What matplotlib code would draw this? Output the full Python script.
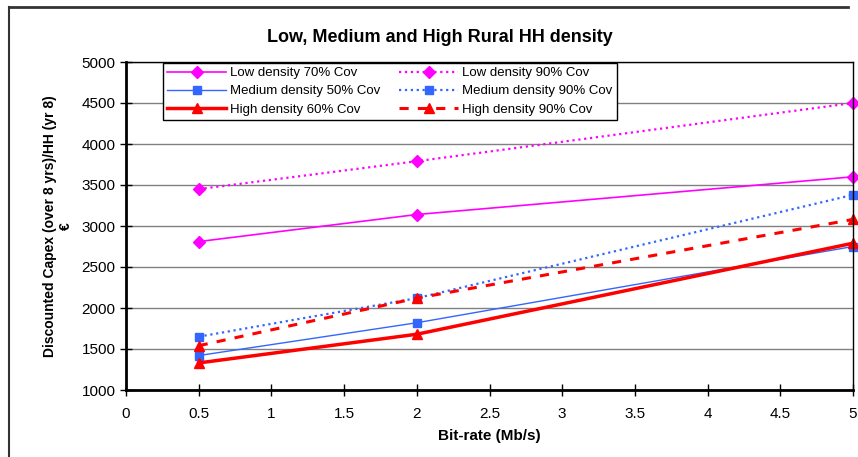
import matplotlib.pyplot as plt
from matplotlib.lines import Line2D

plt.rcParams['font.family'] = ['Liberation Sans', 'DejaVu Sans']

# data
bitrate = [0.5, 2, 5]
low_70 = [2810, 3140, 3600]
low_90 = [3450, 3790, 4500]
med_50 = [1420, 1820, 2750]
med_90 = [1650, 2120, 3380]
high_60 = [1330, 1680, 2790]
high_90 = [1540, 2120, 3080]

magenta = '#FF00FF'
blue = '#3366FF'
red = '#FF0000'

fig = plt.figure(figsize=(8.58, 4.57), dpi=100)
ax = fig.add_axes([126/858, 1-390/457, 727/858, 328/457])

# outer chart border
fig.add_artist(Line2D([9/858, 9/858], [0, 1-7/457], transform=fig.transFigure, color='#333333', lw=1.5))
fig.add_artist(Line2D([9/858, 848/858], [1-7/457, 1-7/457], transform=fig.transFigure, color='#333333', lw=2))

ax.plot(bitrate, low_70, '-', color=magenta, lw=1.2, marker='D', ms=6, label='Low density 70% Cov', clip_on=False)
ax.plot(bitrate, low_90, ':', color=magenta, lw=1.6, marker='D', ms=6, label='Low density 90% Cov', clip_on=False)
ax.plot(bitrate, med_50, '-', color=blue, lw=1.0, marker='s', ms=6, label='Medium density 50% Cov', clip_on=False)
ax.plot(bitrate, med_90, ':', color=blue, lw=1.6, marker='s', ms=6, label='Medium density 90% Cov', clip_on=False)
ax.plot(bitrate, high_60, '-', color=red, lw=2.5, marker='^', ms=7, label='High density 60% Cov', clip_on=False)
ax.plot(bitrate, high_90, '--', color=red, lw=2.2, marker='^', ms=7, dashes=(3, 3), label='High density 90% Cov', clip_on=False)

ax.set_xlim(0, 5)
ax.set_ylim(1000, 5000)
ax.set_xticks([0, 0.5, 1, 1.5, 2, 2.5, 3, 3.5, 4, 4.5, 5])
ax.set_xticklabels(['0', '0.5', '1', '1.5', '2', '2.5', '3', '3.5', '4', '4.5', '5'])
ax.set_yticks(range(1000, 5001, 500))
ax.grid(axis='y', color='#808080', lw=1.0)
ax.set_axisbelow(True)
ax.tick_params(direction='inout', length=8, labelsize=11, width=1)
ax.tick_params(axis='x', pad=8)
for s in ['left', 'bottom']:
    ax.spines[s].set_linewidth(2)
for s in ['top', 'right']:
    ax.spines[s].set_linewidth(1)

ax.set_xlabel('Bit-rate (Mb/s)', fontsize=11, fontweight='bold', labelpad=6)
ax.set_ylabel('Discounted Capex (over 8 yrs)/HH (yr 8)\n€', fontsize=10, fontweight='bold', labelpad=6)
fig.text(440/858, 1-38/457, 'Low, Medium and High Rural HH density', ha='center', va='center',
         fontsize=13, fontweight='bold')

h, l = ax.get_legend_handles_labels()
order = [0, 2, 4, 1, 3, 5]
leg = ax.legend([h[i] for i in order], [l[i] for i in order], ncol=2,
                loc='upper left', bbox_to_anchor=(37/727, 1 - 1/328),
                fontsize=9.5, frameon=True, fancybox=False, edgecolor='black',
                framealpha=1, handlelength=4.5, borderpad=0.3, labelspacing=0.45,
                columnspacing=1.4, handletextpad=0.3, borderaxespad=0)
leg.get_frame().set_linewidth(1)

fig.savefig('out.png', dpi=100)
